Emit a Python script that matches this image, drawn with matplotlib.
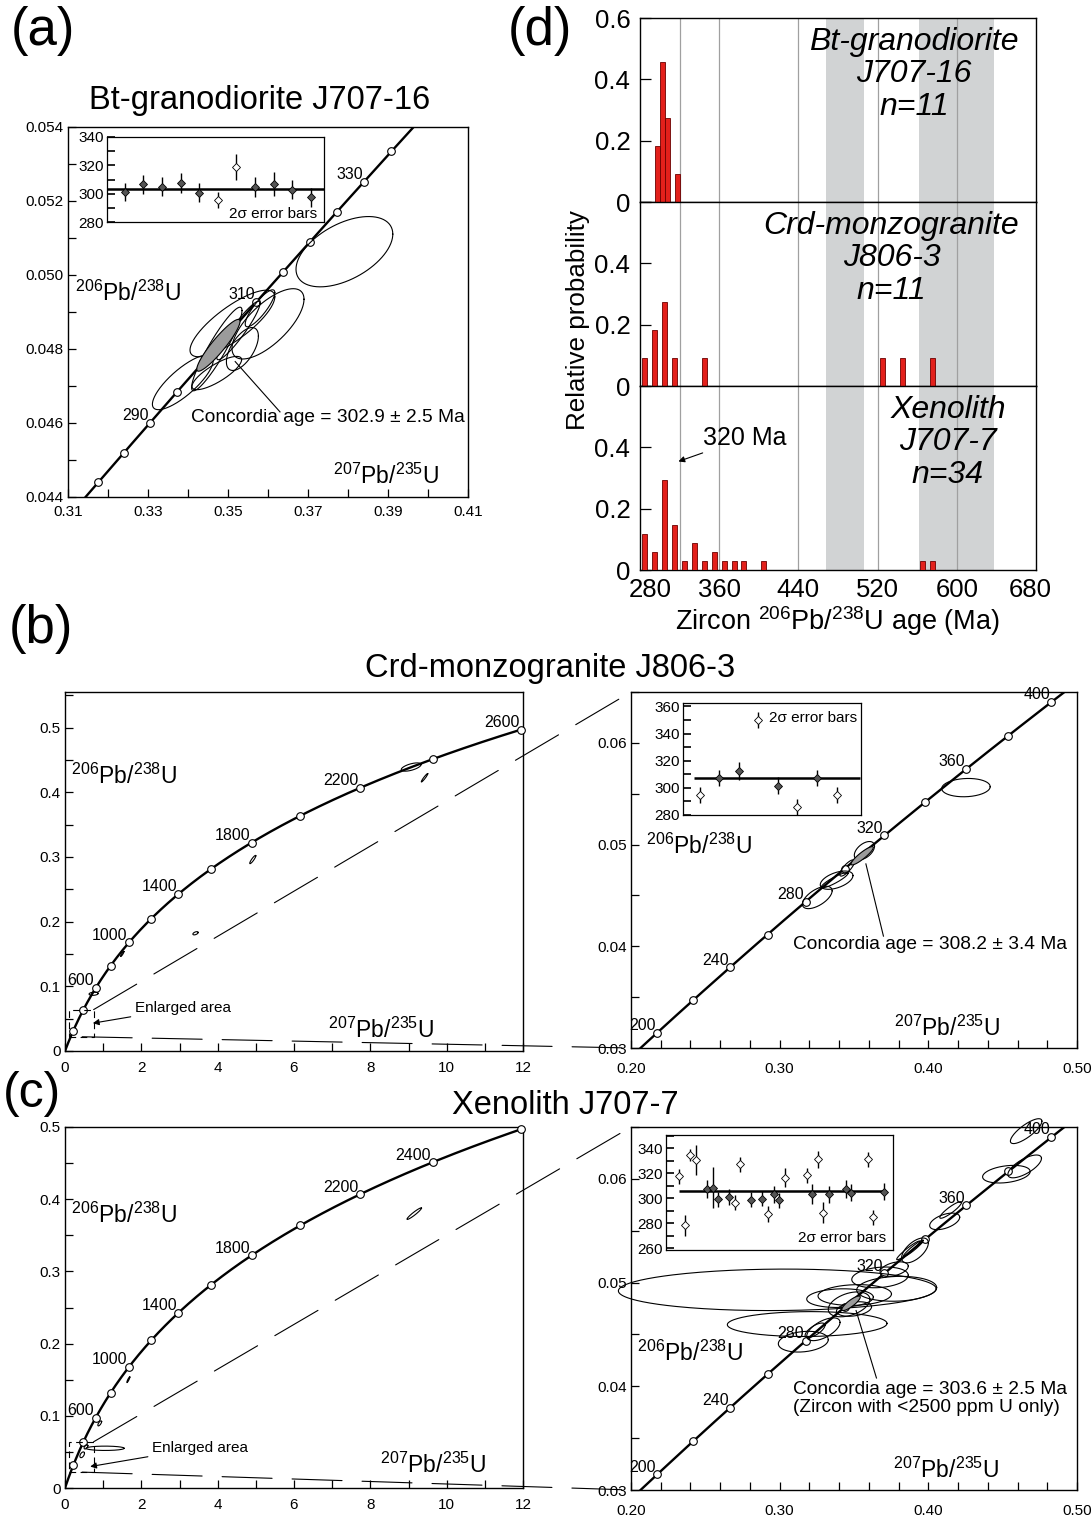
import numpy as np
import matplotlib
matplotlib.use("Agg")
import matplotlib.pyplot as plt
from matplotlib.patches import Rectangle, ConnectionPatch
from matplotlib.transforms import ScaledTranslation

plt.rcParams['font.family'] = ['Liberation Sans', 'DejaVu Sans']

# ---------------- data ----------------
# decay constants (1/Ma)
L238 = 1.55125e-4
L235 = 9.8485e-4

# (a) Bt-granodiorite J707-16
A_MARK_AGES = [280, 285, 290, 295, 300, 305, 310, 315, 320, 325, 330, 335]
A_LABEL_AGES = [290, 310, 330]
A_ELL_CX = [0.3791, 0.3600, 0.3511, 0.3387, 0.3472, 0.3526, 0.3536, 0.3472, 0.3580]
A_ELL_CY = [0.05063, 0.04868, 0.04869, 0.04710, 0.04800, 0.04850, 0.04800, 0.04735, 0.04910]
A_ELL_SX = [0.0121, 0.0090, 0.0106, 0.0076, 0.0063, 0.0054, 0.0040, 0.0062, 0.0037]
A_ELL_SY = [0.00095, 0.00095, 0.00090, 0.00074, 0.00113, 0.00079, 0.00058, 0.00045, 0.00050]
A_ELL_R = [0.5, 0.7, 0.8, 0.8, 0.92, 0.93, 0.6, 0.8, 0.85]
A_MEAN_ELL = [0.3476, 0.0481, 0.0054, 0.0007, 0.92]
A_IN_AGE = [301.0, 306.7, 305.0, 307.4, 300.7, 295.5, 318.8, 304.5, 306.7, 302.6, 297.4]
A_IN_ERR = [6.5, 6.8, 6.7, 7.0, 6.7, 5.7, 9.0, 7.0, 8.5, 6.7, 6.5]
A_IN_FILLED = [1, 1, 1, 1, 1, 0, 0, 1, 1, 1, 1]
A_IN_MEAN = 303.6

# (b) Crd-monzogranite J806-3
BIG_MARK_AGES = [200, 400, 600, 800, 1000, 1200, 1400, 1600, 1800, 2000, 2200, 2400, 2600]
B_BIG_LABELS = [600, 1000, 1400, 1800, 2200, 2600]
C_BIG_LABELS = [600, 1000, 1400, 1800, 2200, 2400]
BL_ELL_CX = [9.07, 9.42, 4.92, 3.42, 1.50, 0.75]
BL_ELL_CY = [0.439, 0.4224, 0.296, 0.182, 0.150, 0.0885]
BL_ELL_SX = [0.26, 0.085, 0.08, 0.07, 0.045, 0.12]
BL_ELL_SY = [0.0064, 0.0065, 0.0064, 0.0025, 0.004, 0.0025]
BL_ELL_R = [0.6, 0.95, 0.9, 0.5, 0.9, 0.2]
ZOOM_MARK_AGES = [200, 220, 240, 260, 280, 300, 320, 340, 360, 380, 400]
ZOOM_LABELS = [200, 240, 280, 320, 360, 400]
BR_ELL_CX = [0.4253, 0.3570, 0.3454, 0.3383, 0.3370, 0.3253]
BR_ELL_CY = [0.0556, 0.0494, 0.0477, 0.0465, 0.0465, 0.0448]
BR_ELL_SX = [0.0163, 0.0068, 0.0050, 0.0110, 0.0090, 0.0100]
BR_ELL_SY = [0.0009, 0.0009, 0.0008, 0.0009, 0.00075, 0.0011]
BR_ELL_R = [0.1, 0.5, 0.8, 0.5, 0.9, 0.6]
B_MEAN_ELL = [0.3555, 0.0489, 0.0075, 0.0009, 0.9]
B_IN_POS = [1, 2, 3, 4, 5, 6, 7, 8]
B_IN_AGE = [294.7, 307.5, 312.5, 350.1, 301.7, 286.0, 307.5, 294.7]
B_IN_ERR = [6.0, 6.0, 6.5, 6.0, 6.0, 6.0, 6.0, 6.0]
B_IN_FILLED = [0, 1, 1, 0, 1, 0, 1, 0]
B_IN_MEAN = 307.0

# (c) Xenolith J707-7
CL_ELL_CX = [9.15, 1.66, 0.91, 1.05, 0.45, 0.55]
CL_ELL_CY = [0.380, 0.150, 0.0895, 0.055, 0.046, 0.057]
CL_ELL_SX = [0.19, 0.04, 0.05, 0.50, 0.06, 0.05]
CL_ELL_SY = [0.008, 0.004, 0.0035, 0.003, 0.004, 0.003]
CL_ELL_R = [0.95, 0.9, 0.7, 0.0, 0.5, 0.5]
CR_ELL_CX = [0.4658, 0.4525, 0.4648, 0.4150, 0.4110, 0.3910, 0.3865, 0.3899, 0.3770, 0.3675,
             0.2984, 0.3185, 0.3787, 0.3406, 0.3505, 0.3467, 0.3500, 0.3294, 0.3159, 0.3238]
CR_ELL_CY = [0.0646, 0.06045, 0.0612, 0.0570, 0.0559, 0.0531, 0.0531, 0.0533, 0.0513, 0.0505,
             0.0493, 0.0460, 0.0494, 0.0485, 0.0488, 0.0479, 0.04745, 0.0455, 0.0443, 0.0454]
CR_ELL_SX = [0.0106, 0.0160, 0.0113, 0.0073, 0.0101, 0.0090, 0.0078, 0.0067, 0.0095, 0.0190,
             0.1069, 0.0537, 0.0269, 0.0224, 0.0247, 0.0140, 0.0118, 0.0112, 0.0168, 0.0067]
CR_ELL_SY = [0.0012, 0.00085, 0.0011, 0.0008, 0.0008, 0.0012, 0.0009, 0.0008, 0.0007, 0.0010,
             0.0020, 0.0012, 0.0012, 0.0009, 0.0010, 0.0012, 0.0007, 0.0011, 0.0010, 0.0007]
CR_ELL_R = [0.8, 0.3, 0.7, 0.9, 0.5, 0.6, 0.95, 0.95, 0.4, 0.2,
            0.05, 0.05, 0.1, 0.1, 0.1, 0.4, 0.3, 0.6, 0.2, 0.7]
C_MEAN_ELL = [0.3480, 0.0480, 0.0062, 0.0007, 0.85]
C_IN_POS = [1, 2, 3, 4, 6, 7, 8, 10, 11, 12, 14, 16, 17, 18, 19, 20, 24, 25, 26, 27, 28, 31, 32, 35, 36, 38]
C_IN_AGE = [317.9, 278.4, 334.7, 330.7, 307.7, 308.5, 299.5, 301.3, 296.5, 327.2, 298.9, 299.7, 287.5,
            303.2, 298.4, 316.5, 318.4, 303.2, 331.2, 288.5, 303.2, 307.7, 304.7, 331.5, 285.1, 305.5]
C_IN_ERR = [6.0, 8.7, 5.0, 12.0, 7.0, 16.5, 6.0, 6.5, 6.0, 6.0, 6.0, 6.0, 6.5,
            7.0, 6.0, 7.5, 6.0, 8.0, 7.0, 8.5, 7.0, 7.0, 6.5, 6.0, 6.0, 7.0]
C_IN_FILLED = [0, 0, 0, 0, 1, 1, 1, 1, 0, 0, 1, 1, 0, 1, 1, 0, 0, 1, 0, 0, 1, 1, 1, 0, 0, 1]
C_IN_MEAN = 306.0

# (d) histograms
D_TOP_AGE = [297.5, 302.5, 307.5, 317.5]
D_TOP_P = [0.182, 0.455, 0.273, 0.091]
D_MID_AGE = [285, 295, 305, 315, 345, 525, 545, 575]
D_MID_P = [0.091, 0.182, 0.273, 0.091, 0.091, 0.091, 0.091, 0.091]
D_BOT_AGE = [285, 295, 305, 315, 325, 335, 345, 355, 365, 375, 385, 405, 565, 575]
D_BOT_P = [0.118, 0.059, 0.294, 0.147, 0.029, 0.088, 0.029, 0.059, 0.029, 0.029, 0.029, 0.029, 0.029, 0.029]
D_BANDS = [(468, 506), (562, 638)]
D_GRID = [320, 360, 440, 520, 600]
D_XTICKS = [280, 360, 440, 520, 600, 680]

# ---------------- helpers ----------------
W, H = 1092, 1518
fig = plt.figure(figsize=(W / 100, H / 100), dpi=100)


def box(l, t, r, b):
    return [l / W, 1 - b / H, (r - l) / W, (b - t) / H]


def conc(t):
    t = np.asarray(t, float)
    return np.expm1(L235 * t), np.expm1(L238 * t)


def ellipse(ax, cx, cy, sx, sy, r, filled=False, lw=0.8, clip=True):
    t = np.linspace(0, 2 * np.pi, 240)
    x = cx + sx * np.cos(t)
    y = cy + sy * (r * np.cos(t) + np.sqrt(1 - r * r) * np.sin(t))
    if filled:
        ax.fill(x, y, fc='#9b9b9b', ec='k', lw=lw, zorder=5, clip_on=clip)
    else:
        ax.plot(x, y, 'k-', lw=lw, zorder=4, clip_on=clip)


def concordia(ax, t0, t1, marks, labels, fs=11.5, ms=5.5):
    tt = np.linspace(t0, t1, 500)
    x, y = conc(tt)
    ax.plot(x, y, 'k-', lw=1.7, zorder=2)
    mx, my = conc(marks)
    ax.plot(mx, my, 'o', ms=ms, mfc='white', mec='k', mew=0.8, zorder=3, clip_on=False)
    for a in labels:
        lx, ly = conc(a)
        ax.annotate(str(a), (float(lx), float(ly)), xytext=(-1, 2), textcoords='offset points',
                    ha='right', va='baseline', fontsize=fs, zorder=6)


def ticks(ax, xt, xl, yt, yl, fs=11, xpad=8):
    ax.set_xticks(xt)
    ax.set_xticklabels(xl)
    ax.set_yticks(yt)
    ax.set_yticklabels(yl)
    ax.tick_params(direction='in', length=6, width=0.9, labelsize=fs, pad=3)
    ax.tick_params(axis='x', pad=xpad)
    for s in ax.spines.values():
        s.set_linewidth(1.0)


def sel(vals, every, fmt):
    return [fmt(v) if i % every == 0 else '' for i, v in enumerate(vals)]


def inset(rect, pos, age, err, filled, mean, line_x, xlim, ylim, yt, ylab, note_xy, note_ha):
    ax = fig.add_axes(box(*rect))
    ax.set_xlim(xlim)
    ax.set_ylim(ylim)
    ax.set_xticks([])
    ax.set_yticks(yt)
    ax.set_yticklabels(ylab)
    ax.tick_params(direction='in', length=6, width=1.2, labelsize=11, pad=2)
    for s in ax.spines.values():
        s.set_linewidth(0.9)
    ax.hlines(mean, line_x[0], line_x[1], color='k', lw=1.8, zorder=2)
    for p, a, e, f in zip(pos, age, err, filled):
        ax.vlines(p, a - e, a + e, color='k', lw=1.0, zorder=3)
        ax.plot(p, a, 'D', ms=4.5, mfc='#555555' if f else 'white', mec='k', mew=0.6, zorder=4)
    ax.text(note_xy[0], note_xy[1], '2\u03c3 error bars', transform=ax.transAxes,
            ha=note_ha, va='center', fontsize=11)
    return ax


def ratio_lbl(kind):
    if kind == 'y':
        return r'$\mathregular{^{206}}$Pb/$\mathregular{^{238}}$U'
    return r'$\mathregular{^{207}}$Pb/$\mathregular{^{235}}$U'


# ---------------- (a) ----------------
axA = fig.add_axes(box(68, 127, 468, 497))
axA.set_xlim(0.31, 0.41)
axA.set_ylim(0.044, 0.054)
xt = np.round(np.arange(0.31, 0.4101, 0.01), 3)
yt = np.round(np.arange(0.044, 0.05401, 0.001), 4)
ticks(axA, xt, sel(xt, 2, lambda v: f'{v:.2f}'), yt, sel(yt, 2, lambda v: f'{v:.3f}'), xpad=6)
concordia(axA, 270, 345, A_MARK_AGES, A_LABEL_AGES)
for e in zip(A_ELL_CX, A_ELL_CY, A_ELL_SX, A_ELL_SY, A_ELL_R):
    ellipse(axA, *e)
ellipse(axA, *A_MEAN_ELL, filled=True)
axA.plot([0.3518, 0.3630], [0.04766, 0.04630], 'k-', lw=0.8, zorder=6)
axA.text(0.3408, 0.04614, 'Concordia age = 302.9 \u00b1 2.5 Ma', fontsize=13.8, va='center', ha='left')
axA.text(0.3118, 0.0495, ratio_lbl('y'), fontsize=16.5, va='center', ha='left')
axA.text(0.3762, 0.04455, ratio_lbl('x'), fontsize=16.5, va='center', ha='left')

inset((107, 137, 324, 222), list(range(1, 12)), A_IN_AGE, A_IN_ERR, A_IN_FILLED, A_IN_MEAN,
      (0.05, 11.7), (0.05, 11.7), (280, 340), list(range(280, 341, 10)),
      ['280', '', '300', '', '320', '', '340'], (0.97, 0.1), 'right')

fig.text(260 / W, 1 - 100 / H, 'Bt-granodiorite J707-16', fontsize=23.5, ha='center', va='center')
fig.text(11 / W, 1 - 6 / H, '(a)', fontsize=38, ha='left', va='top')

# ---------------- (d) ----------------
d_rows = [(18, 202, D_TOP_AGE, D_TOP_P, ['Bt-granodiorite', 'J707-16', 'n=11'], 557, True),
          (202, 386, D_MID_AGE, D_MID_P, ['Crd-monzogranite', 'J806-3', 'n=11'], 534, False),
          (386, 570, D_BOT_AGE, D_BOT_P, ['Xenolith', 'J707-7', 'n=34'], 591, False)]
d_axes = []
for top, bot, ages, prob, lines, tx, first in d_rows:
    ax = fig.add_axes(box(640, top, 1036, bot))
    ax.set_xlim(280, 680)
    ax.set_ylim(0, 0.6)
    for b0, b1 in D_BANDS:
        ax.axvspan(b0, b1, color='#d1d3d4', lw=0, zorder=0)
    for g in D_GRID:
        ax.axvline(g, color='#a0a0a0', lw=0.9, zorder=1)
    ax.bar(ages, prob, width=5, color='#e3201b', edgecolor='#6b0000', lw=0.6, zorder=3)
    ax.set_yticks([0, 0.2, 0.4, 0.6])
    ax.set_yticklabels(['0', '0.2', '0.4', '0.6' if first else ''])
    ax.tick_params(axis='y', direction='in', length=8, width=0.9, labelsize=18.5, pad=7)
    ax.set_xticks(D_XTICKS)
    ax.tick_params(axis='x', length=0, labelsize=18.5, pad=6)
    if bot != 570:
        ax.set_xticklabels([])
    for s in ax.spines.values():
        s.set_linewidth(1.0)
    for k, (txt, yy) in enumerate(zip(lines, [0.523, 0.416, 0.31])):
        ax.text(tx, yy, txt, style='italic', fontsize=23, ha='center', va='center', zorder=5)
    d_axes.append(ax)
axD3 = d_axes[2]
xlabs = axD3.get_xticklabels()
xlabs[0].set_transform(xlabs[0].get_transform() + ScaledTranslation(0.10, 0, fig.dpi_scale_trans))
xlabs[-1].set_transform(xlabs[-1].get_transform() + ScaledTranslation(-0.06, 0, fig.dpi_scale_trans))
axD3.set_xlabel(r'Zircon $\mathregular{^{206}}$Pb/$\mathregular{^{238}}$U age (Ma)', fontsize=19.5, labelpad=1)
axD3.annotate('320 Ma', xy=(318.8, 0.354), xytext=(343.6, 0.43), fontsize=18, ha='left', va='center',
              arrowprops=dict(arrowstyle='-|>', lw=0.8, color='k', mutation_scale=9, shrinkA=0, shrinkB=0))
fig.text(578 / W, 1 - 320 / H, 'Relative probability', rotation=90, fontsize=18.7, ha='center', va='center')
fig.text(508 / W, 1 - 6 / H, '(d)', fontsize=38, ha='left', va='top')


# ---------------- (b) & (c) ----------------
def big_panel(rect, ylim, yt, labels, ell, ylab_y, xlab_xy, enl_text, enl_arrow):
    ax = fig.add_axes(box(*rect))
    ax.set_xlim(0, 12)
    ax.set_ylim(*ylim)
    xt = list(range(0, 13))
    ticks(ax, xt, sel(xt, 2, lambda v: f'{v}'), yt,
          [('0' if v == 0 else f'{v:.1f}') if i % 2 == 0 else '' for i, v in enumerate(yt)], xpad=7)
    concordia(ax, 0, 2600, BIG_MARK_AGES, labels)
    for e in zip(*ell):
        ellipse(ax, *e)
    ax.add_patch(Rectangle((0.1, 0.022), 0.65, 0.042, fill=False, lw=0.8, ls=(0, (6, 4)), zorder=5))
    ax.text(0.17, ylab_y, ratio_lbl('y'), fontsize=16.5, ha='left', va='center')
    ax.text(xlab_xy[0], xlab_xy[1], ratio_lbl('x'), fontsize=16.5, ha='left', va='center')
    ax.annotate('Enlarged area', xy=enl_arrow, xytext=enl_text, fontsize=11, ha='left', va='center',
                arrowprops=dict(arrowstyle='-|>', lw=0.8, color='k', mutation_scale=9, shrinkA=1, shrinkB=0))
    return ax


def zoom_panel(rect, ell, mean_ell, lead, age_text, age_xy, ylab_xy, xlab_xy):
    ax = fig.add_axes(box(*rect))
    ax.set_xlim(0.20, 0.50)
    ax.set_ylim(0.03, 0.065)
    xt = np.round(np.arange(0.20, 0.5001, 0.02), 3)
    xl = [f'{v:.2f}' if abs(round(v * 10) - v * 10) < 1e-6 else '' for v in xt]
    yt = np.round(np.arange(0.03, 0.06501, 0.005), 4)
    yl = [f'{v:.2f}' if i % 2 == 0 else '' for i, v in enumerate(yt)]
    ticks(ax, xt, xl, yt, yl, xpad=10)
    concordia(ax, 150, 430, ZOOM_MARK_AGES, ZOOM_LABELS)
    for e in zip(*ell):
        ellipse(ax, *e, clip=False)
    ellipse(ax, *mean_ell, filled=True)
    ax.plot(lead[0], lead[1], 'k-', lw=0.8, zorder=6)
    ax.text(age_xy[0], age_xy[1], age_text, fontsize=13.8, ha='left', va='center', linespacing=1.05)
    ax.text(ylab_xy[0], ylab_xy[1], ratio_lbl('y'), fontsize=16.5, ha='left', va='center')
    ax.text(xlab_xy[0], xlab_xy[1], ratio_lbl('x'), fontsize=16.5, ha='left', va='center')
    return ax


axBL = big_panel((65, 692, 523, 1051), (0, 0.555), list(np.round(np.arange(0, 0.5501, 0.05), 2)),
                 B_BIG_LABELS, (BL_ELL_CX, BL_ELL_CY, BL_ELL_SX, BL_ELL_SY, BL_ELL_R),
                 0.425, (6.9, 0.032), (1.83, 0.0665), (0.73, 0.043))
axBR = zoom_panel((631, 692, 1077, 1048), (BR_ELL_CX, BR_ELL_CY, BR_ELL_SX, BR_ELL_SY, BR_ELL_R),
                  B_MEAN_ELL, ([0.358, 0.3698], [0.0481, 0.0410]),
                  'Concordia age = 308.2 \u00b1 3.4 Ma', (0.309, 0.0402), (0.21, 0.0498), (0.377, 0.0319))
inset((683, 703, 861, 815), B_IN_POS, B_IN_AGE, B_IN_ERR, B_IN_FILLED, B_IN_MEAN,
      (0.69, 9.22), (0.14, 9.25), (280, 362.5), list(range(280, 361, 10)),
      ['280', '', '300', '', '320', '', '340', '', '360'], (0.98, 0.87), 'right')

axCL = big_panel((65, 1127, 523, 1488), (0, 0.5), list(np.round(np.arange(0, 0.5001, 0.05), 2)),
                 C_BIG_LABELS, (CL_ELL_CX, CL_ELL_CY, CL_ELL_SX, CL_ELL_SY, CL_ELL_R),
                 0.378, (8.26, 0.032), (2.28, 0.0556), (0.66, 0.0297))
axCR = zoom_panel((631, 1127, 1077, 1490), (CR_ELL_CX, CR_ELL_CY, CR_ELL_SX, CR_ELL_SY, CR_ELL_R),
                  C_MEAN_ELL, ([0.3514, 0.3651], [0.0473, 0.0408]),
                  'Concordia age = 303.6 \u00b1 2.5 Ma\n(Zircon with <2500 ppm U only)', (0.309, 0.0388),
                  (0.204, 0.0432), (0.376, 0.0319))
inset((666, 1135, 893, 1250), C_IN_POS, C_IN_AGE, C_IN_ERR, C_IN_FILLED, C_IN_MEAN,
      (1, 38.2), (-1.41, 39.55), (258.7, 350.7), list(range(260, 351, 10)),
      ['260', '', '280', '', '300', '', '320', '', '340', ''], (0.97, 0.1), 'right')

# connector lines from "enlarged area" box to zoomed panels
for axl, axr in [(axBL, axBR), (axCL, axCR)]:
    for pa, pb in [((0.75, 0.064), (0, 1)), ((0.45, 0.022), (0, 0))]:
        con = ConnectionPatch(xyA=pa, coordsA=axl.transData, xyB=pb, coordsB=axr.transAxes,
                              lw=0.8, ls=(0, (45, 18)), color='k', zorder=1)
        fig.add_artist(con)

fig.text(550 / W, 1 - 668 / H, 'Crd-monzogranite J806-3', fontsize=23.5, ha='center', va='center')
fig.text(565 / W, 1 - 1106 / H, 'Xenolith J707-7', fontsize=23.5, ha='center', va='center')
fig.text(9 / W, 1 - 604 / H, '(b)', fontsize=38, ha='left', va='top')
fig.text(3 / W, 1 - 1071 / H, '(c)', fontsize=36, ha='left', va='top')

fig.savefig('out.png', dpi=100)
